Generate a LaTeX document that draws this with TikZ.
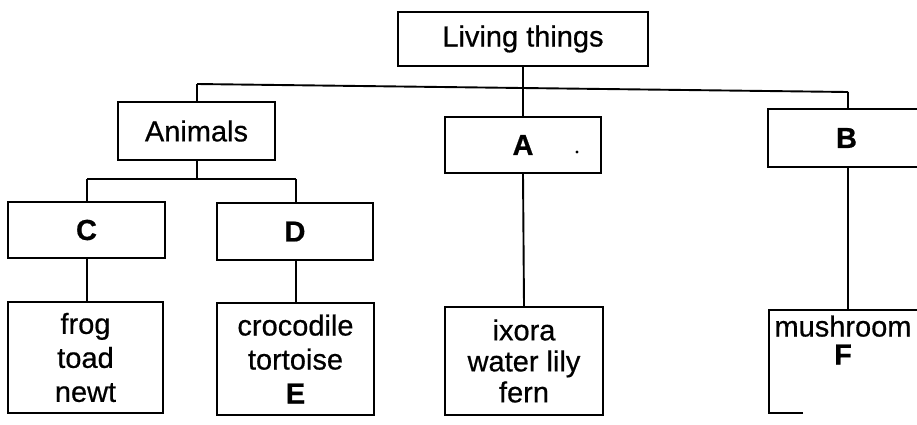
\documentclass[tikz,border=0pt]{standalone}
\usepackage{fontspec}
\setmainfont[FakeBold=1.5]{Liberation Sans}
\newfontfamily\labfont[FakeBold=0.6]{Liberation Sans}
\begin{document}
\begin{tikzpicture}[x=1pt,y=-1pt,
  box/.style={draw, line width=1.7pt, inner sep=0pt, align=center, font=\labfont\fontsize{29}{34}\selectfont},
  txt/.style={inner sep=0pt, align=center, font=\labfont\fontsize{29}{34}\selectfont},
  conn/.style={line width=1.9pt}]
\useasboundingbox (0,0) rectangle (917,424);
\clip (0,0) rectangle (917,424);
% boxes
\node[box, minimum width=250pt, minimum height=54pt] (LT) at (523,39) {Living things};
\node[box, minimum width=157pt, minimum height=58pt] (AN) at (196.5,131) {Animals};
\node[box, minimum width=156pt, minimum height=56pt] (A) at (523,145) {\raisebox{-4pt}{\bfseries A}};
\node[box, minimum width=157pt, minimum height=58pt] (B) at (846.5,138) {\raisebox{-3pt}{\bfseries B}};
\node[box, minimum width=157pt, minimum height=56pt] (C) at (86.5,230) {\raisebox{-3pt}{\bfseries C}};
\node[box, minimum width=156pt, minimum height=57pt] (D) at (295,231.5) {\raisebox{-2pt}{\bfseries D}};
\node[box, minimum width=155pt, minimum height=111pt] (frog) at (85.5,357.5) {frog\\toad\\newt};
\node[box, minimum width=157pt, minimum height=112pt] (croc) at (295.5,359) {crocodile\\tortoise\\\bfseries E};
\node[box, minimum width=158pt, minimum height=108pt, font=\labfont\fontsize{29}{31}\selectfont] (ix) at (524,361) {ixora\\water lily\\fern};
\node[txt, font=\labfont\fontsize{29}{28}\selectfont] (mush) at (843,340) {mushroom\\\bfseries F};
\coordinate (mtop) at (848,310);
\draw[line width=1.7pt] (803,413) -- (769,413) -- (769,310) -- (930,310);
% scan dot in A
\fill (577,152) circle (1.6pt);
% connectors
\coordinate (hl) at (197,84);
\coordinate (hr) at (848,92);
\draw[conn] (LT.south) -- (A.north);
\draw[conn] (hl) -- (hr);
\draw[conn] (hl) -- (AN.north -| hl);
\draw[conn] (hr) -- (B.north -| hr);
\coordinate (al) at (87,179);
\coordinate (ar) at (296,179);
\draw[conn] (AN.south -| 197,0) -- (197,179);
\draw[conn] (al) -- (ar);
\draw[conn] (al) -- (C.north -| al);
\draw[conn] (ar) -- (D.north -| ar);
\draw[conn] (C.south -| al) -- (frog.north -| al);
\draw[conn] (D.south -| ar) -- (croc.north -| ar);
\draw[conn] (A.south) -- (ix.north);
\draw[conn] (B.south -| mtop) -- (mtop);
\end{tikzpicture}
\end{document}
